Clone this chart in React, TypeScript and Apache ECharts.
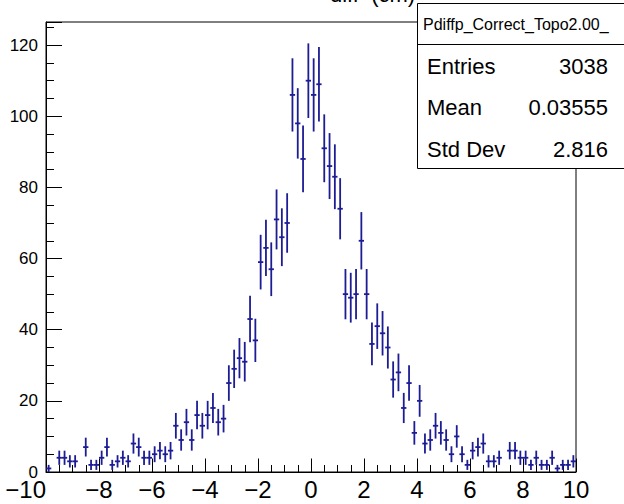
import React, { useEffect, useRef } from "react";
import * as echarts from "echarts";

// Histogram binning: 100 bins of width 0.2 from -10 to 10
const binLow = -10;
const binWidth = 0.2;

// Bin contents, left to right
const counts = [
  1, 0, 4, 4, 3, 3, 0, 7, 2, 2,
  4, 7, 2, 3, 4, 3, 8, 7, 4, 4,
  5, 6, 5, 6, 13, 9, 14, 9, 16, 13,
  16, 18, 14, 15, 25, 29, 32, 31, 43, 37,
  59, 63, 57, 71, 66, 70, 106, 98, 88, 110,
  106, 109, 91, 86, 83, 74, 50, 49, 50, 65,
  50, 36, 41, 39, 35, 26, 28, 18, 25, 11,
  20, 8, 9, 13, 11, 9, 5, 10, 5, 2,
  6, 7, 8, 3, 3, 4, 0, 6, 6, 4,
  4, 2, 4, 2, 2, 4, 1, 2, 2, 3,
];

const histName = "Pdiffp_Correct_Topo2.00_";
const titleText = "diff  (cm)";
const statLabels = ["Entries", "Mean", "Std Dev"];
const statValues = ["3038", "0.03555", "2.816"];

const FONT = "Liberation Sans, Arial, Helvetica, sans-serif";
const MARK = "#1c1c94";

export default function App() {
  const ref = useRef<HTMLDivElement>(null);

  useEffect(() => {
    if (!ref.current) return;
    const chart = echarts.init(ref.current, null, { renderer: "svg" });

    const points = counts
      .map((c, i) => [binLow + binWidth * (i + 0.5), c])
      .filter((p) => p[1] > 0);

    const minusFmt = (v: number) => (v < 0 ? "\u2212" + Math.abs(v) : String(v));

    const statRowsY = [66, 107, 149];
    const statGraphics: any[] = [];
    statLabels.forEach((lab, i) => {
      statGraphics.push({
        type: "text",
        x: 427,
        y: statRowsY[i],
        style: { text: lab, font: `22px ${FONT}`, fill: "#000", textVerticalAlign: "middle" },
        z: 12,
      });
      statGraphics.push({
        type: "text",
        x: 608,
        y: statRowsY[i],
        style: {
          text: statValues[i],
          font: `22px ${FONT}`,
          fill: "#000",
          textAlign: "right",
          textVerticalAlign: "middle",
        },
        z: 12,
      });
    });

    chart.setOption({
      animation: false,
      backgroundColor: "#fff",
      grid: {
        left: 46,
        right: 48,
        top: 22,
        bottom: 32,
        show: true,
        borderColor: "#000",
        borderWidth: 1,
        backgroundColor: "transparent",
      },
      xAxis: {
        type: "value",
        min: -10,
        max: 10,
        interval: 2,
        axisLine: { show: true, onZero: false, lineStyle: { color: "#000", width: 1 } },
        axisTick: { show: true, inside: true, length: 13.5, lineStyle: { color: "#000" } },
        minorTick: { show: true, splitNumber: 4, length: 7, lineStyle: { color: "#000" } },
        splitLine: { show: false },
        axisLabel: {
          margin: 6,
          color: "#000",
          fontSize: 24,
          lineHeight: 22,
          fontFamily: FONT,
          alignMinLabel: "right",
          formatter: minusFmt,
        },
      },
      yAxis: {
        type: "value",
        min: 0,
        max: 126.5,
        interval: 20,
        axisLine: { show: true, onZero: false, lineStyle: { color: "#000", width: 1 } },
        axisTick: { show: true, inside: true, length: 16, lineStyle: { color: "#000" } },
        minorTick: { show: true, splitNumber: 4, length: 8, lineStyle: { color: "#000" } },
        splitLine: { show: false },
        axisLabel: {
          margin: 8,
          color: "#000",
          fontSize: 17,
          lineHeight: 12,
          fontFamily: FONT,
          showMaxLabel: false,
          formatter: (v: number) => (v % 20 === 0 ? String(v) : ""),
        },
      },
      series: [
        {
          type: "custom",
          data: points,
          encode: { x: 0, y: 1 },
          clip: true,
          renderItem: (params: any, api: any) => {
            const x = api.value(0);
            const n = api.value(1);
            const e = Math.sqrt(n);
            const l = api.coord([x - binWidth / 2, n]);
            const r = api.coord([x + binWidth / 2, n]);
            const lo = api.coord([x, Math.max(0, n - e)]);
            const hi = api.coord([x, n + e]);
            const style = { stroke: MARK, lineWidth: 1.8 };
            return {
              type: "group",
              children: [
                { type: "line", shape: { x1: l[0], y1: l[1], x2: r[0], y2: r[1] }, style },
                { type: "line", shape: { x1: lo[0], y1: lo[1], x2: hi[0], y2: hi[1] }, style },
              ],
            };
          },
        },
      ],
      graphic: [
        {
          type: "text",
          x: 330,
          y: -17,
          z: 5,
          style: { text: titleText, font: `22px ${FONT}`, fill: "#000" },
        },
        {
          type: "rect",
          shape: { x: 417.5, y: 3.5, width: 220, height: 165 },
          style: { fill: "#fff", stroke: "#000", lineWidth: 1 },
          z: 10,
        },
        {
          type: "line",
          shape: { x1: 417.5, y1: 44.5, x2: 630, y2: 44.5 },
          style: { stroke: "#000", lineWidth: 1 },
          z: 11,
        },
        {
          type: "text",
          x: 423,
          y: 24,
          z: 12,
          style: { text: histName, font: `16px ${FONT}`, fill: "#000", textVerticalAlign: "middle" },
        },
        ...statGraphics,
      ],
    });

    return () => chart.dispose();
  }, []);

  return (
    <div
      ref={ref}
      style={{ position: "fixed", left: 0, top: 0, width: 624, height: 504, background: "#fff" }}
    />
  );
}
